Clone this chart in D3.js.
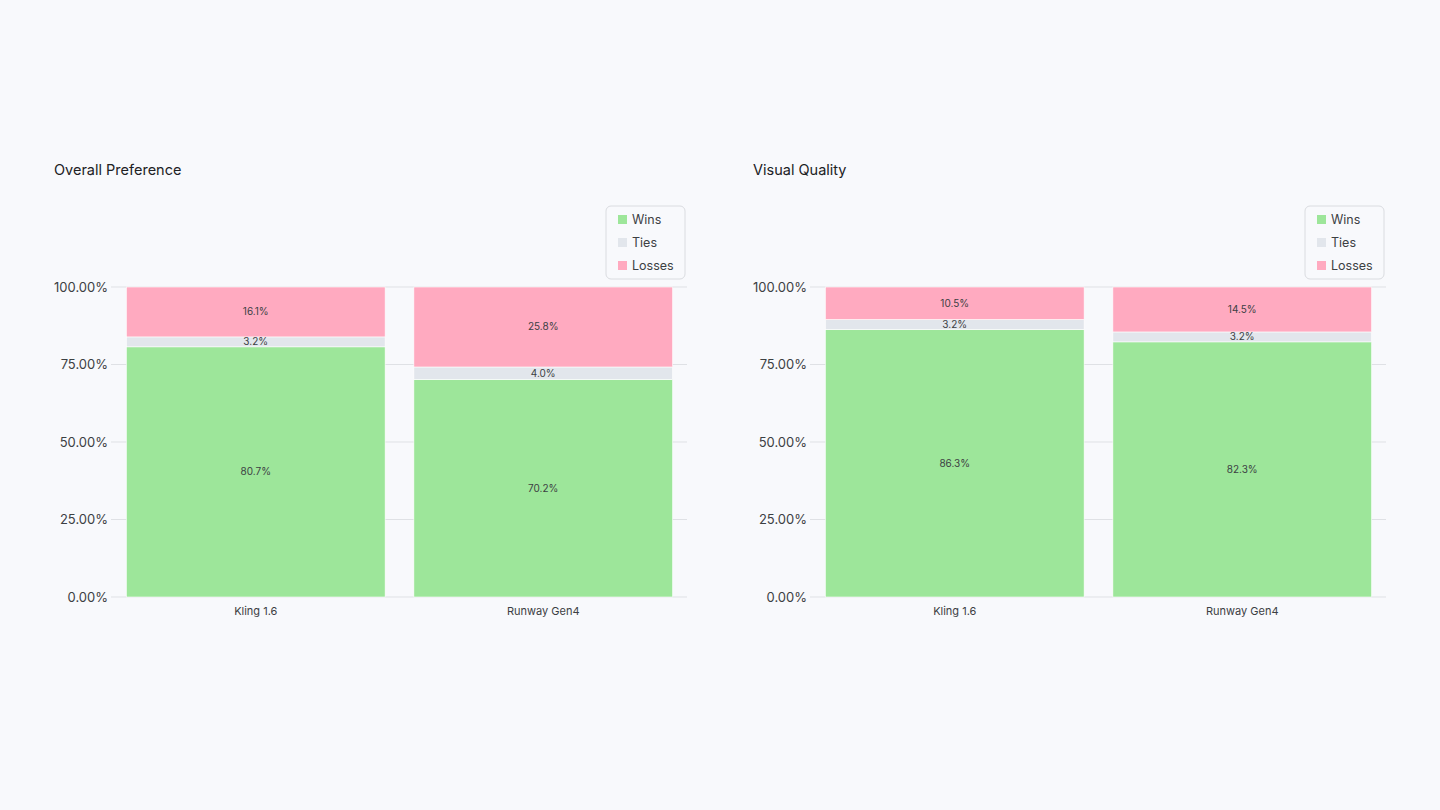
<!DOCTYPE html>
<html>
<head>
<meta charset="utf-8">
<script src="https://cdn.jsdelivr.net/npm/d3@7"></script>
<style>
  body { margin: 0; background: #f8f9fc; font-family: Inter, Roboto, "Noto Sans", sans-serif; }
  svg { display: block; }
</style>
</head>
<body>
<svg id="chart" width="1440" height="810"></svg>
<script>
// data
const models = ['Kling 1.6', 'Runway Gen4'];
const seriesNames = ['Wins', 'Ties', 'Losses'];
const seriesColors = ['#9de69a', '#e2e6ec', '#ffaac0'];
const panelTitles = ['Overall Preference', 'Visual Quality'];
const winsByPanel = [[80.7, 70.2], [86.3, 82.3]];
const tiesByPanel = [[3.2, 4.0], [3.2, 3.2]];
const lossesByPanel = [[16.1, 25.8], [10.5, 14.5]];
const yTicks = [0, 25, 50, 75, 100];

const svg = d3.select('#chart');
svg.append('rect').attr('width', 1440).attr('height', 810).attr('fill', '#f8f9fc');

function drawPanel(i, left) {
  const g = svg.append('g').attr('transform', `translate(${left},0)`);

  // title
  g.append('text')
    .attr('x', 0).attr('y', 175)
    .attr('font-size', 14.5)
    .attr('fill', '#202124')
    .text(panelTitles[i]);

  const x = d3.scaleBand().domain(models).range([58, 633]).paddingInner(0.1).paddingOuter(0.05);
  const y = d3.scaleLinear().domain([0, 100]).range([597, 287]);

  // gridlines
  g.append('g').selectAll('line').data(yTicks).join('line')
    .attr('x1', 57).attr('x2', 633)
    .attr('y1', d => y(d)).attr('y2', d => y(d))
    .attr('stroke', '#dfe1e5').attr('stroke-width', 1);

  // y labels
  g.append('g').selectAll('text').data(yTicks).join('text')
    .attr('x', 54).attr('y', d => y(d))
    .attr('dy', '0.35em')
    .attr('text-anchor', 'end')
    .attr('font-size', 13)
    .attr('fill', '#3c4043')
    .text(d => d3.format('.2f')(d) + '%');

  // stack
  const rows = models.map((m, j) => ({
    model: m,
    Wins: winsByPanel[i][j],
    Ties: tiesByPanel[i][j],
    Losses: lossesByPanel[i][j]
  }));
  const stacked = d3.stack().keys(seriesNames)(rows);

  const layer = g.append('g').selectAll('g').data(stacked).join('g')
    .attr('fill', (d, k) => seriesColors[k]);

  layer.selectAll('rect').data(d => d).join('rect')
    .attr('x', d => x(d.data.model))
    .attr('width', x.bandwidth())
    .attr('y', d => y(d[1]))
    .attr('height', d => y(d[0]) - y(d[1]))
    .attr('stroke', '#ffffff').attr('stroke-width', 0.6);

  // value labels
  stacked.forEach(s => {
    g.append('g').selectAll('text').data(s).join('text')
      .attr('x', d => x(d.data.model) + x.bandwidth() / 2)
      .attr('y', d => (y(d[0]) + y(d[1])) / 2)
      .attr('dy', '0.35em')
      .attr('text-anchor', 'middle')
      .attr('font-size', 10)
      .attr('fill', '#3c4043')
      .text(d => d3.format('.1f')(d[1] - d[0]) + '%');
  });

  // x labels
  g.append('g').selectAll('text').data(models).join('text')
    .attr('x', d => x(d) + x.bandwidth() / 2)
    .attr('y', 611)
    .attr('dy', '0.35em')
    .attr('text-anchor', 'middle')
    .attr('font-size', 11)
    .attr('fill', '#3c4043')
    .text(d => d);

  // legend
  const lg = g.append('g').attr('transform', 'translate(552,206)');
  lg.append('rect')
    .attr('width', 79).attr('height', 73).attr('rx', 5)
    .attr('fill', '#f8f9fc').attr('stroke', '#dadce0');
  seriesNames.forEach((name, k) => {
    lg.append('rect')
      .attr('x', 12).attr('y', 9 + k * 23)
      .attr('width', 9).attr('height', 9)
      .attr('fill', seriesColors[k]);
    lg.append('text')
      .attr('x', 26).attr('y', 13.5 + k * 23)
      .attr('dy', '0.35em')
      .attr('font-size', 12.5)
      .attr('fill', '#3c4043')
      .text(name);
  });
}

drawPanel(0, 54);
drawPanel(1, 753);
</script>
</body>
</html>
